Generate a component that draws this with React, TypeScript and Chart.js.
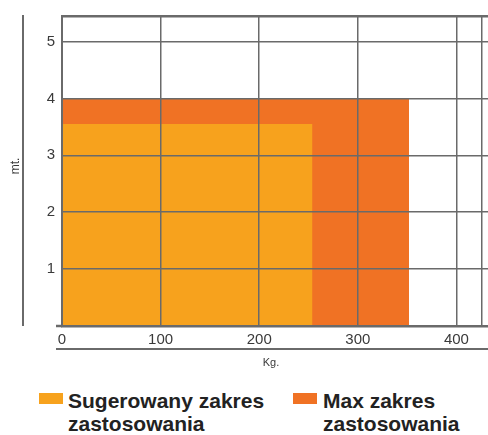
import React, { useEffect, useRef } from 'react';
import { Chart, registerables } from 'chart.js';

Chart.register(...registerables);

// ---- data ----
const seriesLabels = ['Sugerowany zakres zastosowania', 'Max zakres zastosowania'];
const seriesLegendLines = [
  ['Sugerowany zakres', 'zastosowania'],
  ['Max zakres', 'zastosowania'],
];
const seriesLoadKg = [254, 352];
const seriesHeightMt = [3.55, 4];
const seriesColors = ['#F7A21D', '#F07224'];
const xTickValues = [0, 100, 200, 300, 400, 426];
const yTickValues = [0, 1, 2, 3, 4, 5, 5.45];
const xAxisMax = 432;
const yAxisMax = 5.45;
const xTitle = 'Kg.';
const yTitle = 'mt.';

const GRID = '#6a6a6a';
const TEXT = '#3a3a3a';

const extrasPlugin = {
  id: 'extras',
  afterDraw(chart: any) {
    const { ctx, chartArea } = chart;
    ctx.save();
    ctx.strokeStyle = GRID;
    // left separate vertical line
    ctx.lineWidth = 2;
    ctx.beginPath();
    ctx.moveTo(chartArea.left - 39, chartArea.top - 1);
    ctx.lineTo(chartArea.left - 39, chartArea.bottom);
    ctx.stroke();
    // x axis extension to the left
    ctx.lineWidth = 2.5;
    ctx.beginPath();
    ctx.moveTo(chartArea.left - 6, chartArea.bottom);
    ctx.lineTo(chartArea.left, chartArea.bottom);
    ctx.stroke();
    // line beneath tick labels
    ctx.lineWidth = 2;
    ctx.beginPath();
    ctx.moveTo(chartArea.left - 6, chartArea.bottom + 23);
    ctx.lineTo(chart.width, chartArea.bottom + 23);
    ctx.stroke();
    // titles
    ctx.fillStyle = TEXT;
    ctx.font = '11px "Liberation Sans", Arial, sans-serif';
    ctx.textAlign = 'center';
    ctx.textBaseline = 'middle';
    ctx.fillText(xTitle, 271, chartArea.bottom + 37);
    ctx.translate(16, 166);
    ctx.rotate(-Math.PI / 2);
    ctx.font = '12px "Liberation Sans", Arial, sans-serif';
    ctx.fillText(yTitle, 0, 0);
    ctx.restore();
  },
};

export default function App() {
  const ref = useRef<HTMLCanvasElement | null>(null);

  useEffect(() => {
    if (!ref.current) return;
    const datasets = seriesLabels.map((label, i) => ({
      label,
      data: [
        { x: 0, y: seriesHeightMt[i] },
        { x: seriesLoadKg[i], y: seriesHeightMt[i] },
      ],
      backgroundColor: seriesColors[i],
      borderColor: seriesColors[i],
      borderWidth: 0,
      pointRadius: 0,
      fill: 'origin',
      tension: 0,
    }));

    const chart = new Chart(ref.current, {
      type: 'line',
      data: { datasets } as any,
      plugins: [extrasPlugin],
      options: {
        animation: false,
        responsive: false,
        layout: { padding: { top: 16, left: 0, right: 0, bottom: 0 } },
        plugins: { legend: { display: false }, tooltip: { enabled: false } },
        scales: {
          x: {
            type: 'linear',
            min: 0,
            max: xAxisMax,
            afterBuildTicks: (s: any) => {
              s.ticks = xTickValues.map((v) => ({ value: v }));
            },
            afterFit: (s: any) => {
              s.height = 49;
            },
            ticks: {
              autoSkip: false,
              maxRotation: 0,
              padding: 5,
              color: TEXT,
              font: { family: '"Liberation Sans", Arial, sans-serif', size: 15 },
              callback: (v: any) => (Number(v) % 100 === 0 ? String(v) : ''),
            },
            grid: { color: GRID, lineWidth: 1.5, drawTicks: false, z: 1 },
            border: { color: GRID, width: 2.5, z: 1 },
          } as any,
          y: {
            type: 'linear',
            min: 0,
            max: yAxisMax,
            afterBuildTicks: (s: any) => {
              s.ticks = yTickValues.map((v) => ({ value: v }));
            },
            afterFit: (s: any) => {
              s.width = 62;
            },
            ticks: {
              autoSkip: false,
              padding: 7,
              color: TEXT,
              font: { family: '"Liberation Sans", Arial, sans-serif', size: 15 },
              callback: (v: any) => {
                const n = Number(v);
                return Number.isInteger(n) && n > 0 ? String(n) : '';
              },
            },
            grid: {
              color: GRID,
              lineWidth: (c: any) => (c.tick && c.tick.value === yAxisMax ? 2.5 : 1.5),
              drawTicks: false,
              z: 1,
            },
            border: { color: GRID, width: 2, z: 1 },
          } as any,
        },
      },
    });
    return () => chart.destroy();
  }, []);

  const legendFont = '"Liberation Sans", Arial, Helvetica, sans-serif';
  const legendPos = [
    { sq: 39, text: 68 },
    { sq: 293, text: 323 },
  ];

  return (
    <div style={{ position: 'absolute', left: 0, top: 0, width: 488, height: 435, background: '#fff' }}>
      <canvas ref={ref} width={488} height={375} style={{ display: 'block' }} />
      {seriesLabels.map((label, i) => (
        <React.Fragment key={label}>
          <div
            style={{
              position: 'absolute',
              left: legendPos[i].sq,
              top: 393,
              width: 24,
              height: 11,
              background: seriesColors[i],
            }}
          />
          <div
            style={{
              position: 'absolute',
              left: legendPos[i].text,
              top: 389,
              font: `bold 21px ${legendFont}`,
              lineHeight: '23px',
              color: '#222',
              whiteSpace: 'nowrap',
            }}
          >
            {seriesLegendLines[i].map((line) => (
              <div key={line}>{line}</div>
            ))}
          </div>
        </React.Fragment>
      ))}
    </div>
  );
}
